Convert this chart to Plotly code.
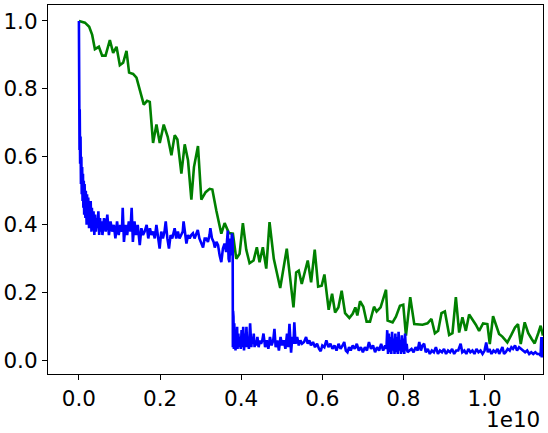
import plotly.graph_objects as go

# x values are in units of 1e10
green_x = [0.0, 0.0148, 0.0253, 0.0327, 0.0394, 0.0492, 0.0573, 0.0657, 0.0763, 0.0844,
           0.0927, 0.1009, 0.1090, 0.1173, 0.1237, 0.1336, 0.1419, 0.1501, 0.1599, 0.1680,
           0.1747, 0.1828, 0.1911, 0.1993, 0.2091, 0.2189, 0.2280, 0.2362, 0.2428, 0.2526,
           0.2608, 0.2689, 0.2772, 0.2836, 0.2935, 0.3018, 0.3124, 0.3223, 0.3289, 0.3387,
           0.3510, 0.3592, 0.3697, 0.3796, 0.3879, 0.3961, 0.4042, 0.4125, 0.4207, 0.4305,
           0.4386, 0.4453, 0.4534, 0.4618, 0.4699, 0.4804, 0.4962, 0.5124, 0.5289, 0.5355,
           0.5419, 0.5493, 0.5641, 0.5724, 0.5813, 0.5897, 0.5985, 0.6052, 0.6157, 0.6241,
           0.6315, 0.6396, 0.6477, 0.6561, 0.6667, 0.6748, 0.6814, 0.6863, 0.6930, 0.7011,
           0.7092, 0.7176, 0.7274, 0.7338, 0.7437, 0.7570, 0.7609, 0.7732, 0.7815, 0.7914,
           0.7995, 0.8062, 0.8167, 0.8266, 0.8372, 0.8470, 0.8593, 0.8691, 0.8775, 0.8856,
           0.8937, 0.9021, 0.9127, 0.9208, 0.9292, 0.9373, 0.9454, 0.9538, 0.9619, 0.9700,
           0.9784, 0.9865, 0.9963, 1.0069, 1.0128, 1.0209, 1.0290, 1.0357, 1.0438, 1.0561,
           1.0659, 1.0750, 1.0824, 1.0891, 1.0989, 1.1077, 1.1161, 1.1235, 1.1323, 1.1382,
           1.1439]
green_y = [1.000, 0.995, 0.983, 0.959, 0.917, 0.924, 0.898, 0.898, 0.944, 0.906,
           0.924, 0.870, 0.877, 0.912, 0.848, 0.844, 0.833, 0.796, 0.754, 0.765,
           0.762, 0.641, 0.695, 0.641, 0.695, 0.659, 0.605, 0.664, 0.651, 0.551,
           0.637, 0.590, 0.474, 0.570, 0.632, 0.474, 0.496, 0.506, 0.504, 0.442,
           0.374, 0.405, 0.376, 0.374, 0.300, 0.315, 0.405, 0.327, 0.287, 0.295,
           0.334, 0.290, 0.334, 0.271, 0.408, 0.300, 0.214, 0.330, 0.157, 0.260,
           0.265, 0.226, 0.295, 0.231, 0.327, 0.218, 0.221, 0.254, 0.150, 0.197,
           0.142, 0.157, 0.206, 0.140, 0.126, 0.138, 0.157, 0.133, 0.175, 0.159,
           0.115, 0.115, 0.159, 0.145, 0.157, 0.209, 0.118, 0.113, 0.130, 0.162,
           0.165, 0.074, 0.187, 0.108, 0.108, 0.106, 0.110, 0.123, 0.081, 0.088,
           0.140, 0.145, 0.076, 0.081, 0.187, 0.083, 0.128, 0.088, 0.136, 0.123,
           0.106, 0.088, 0.110, 0.108, 0.049, 0.131, 0.103, 0.079, 0.071, 0.054,
           0.076, 0.098, 0.108, 0.049, 0.113, 0.081, 0.064, 0.051, 0.081, 0.103,
           0.074]

blue_x = [0.0, 0.0005, 0.001, 0.0015, 0.002, 0.003, 0.004, 0.005, 0.006, 0.007,
          0.008, 0.009, 0.010, 0.011, 0.012, 0.013, 0.014, 0.016, 0.017, 0.019,
          0.020, 0.022, 0.023, 0.025, 0.026, 0.028, 0.029, 0.031, 0.032, 0.034,
          0.036, 0.038, 0.040, 0.042, 0.044, 0.046, 0.048, 0.050, 0.052, 0.054,
          0.056, 0.058, 0.060,
          0.062, 0.066, 0.070, 0.074, 0.078, 0.082, 0.086, 0.090, 0.094, 0.098,
          0.102, 0.106, 0.108, 0.111, 0.115, 0.119, 0.123, 0.127, 0.130, 0.133,
          0.137, 0.141, 0.145, 0.150, 0.154, 0.158, 0.162, 0.167, 0.171, 0.175,
          0.179, 0.183, 0.187, 0.191, 0.195, 0.199, 0.203, 0.207, 0.211, 0.214,
          0.218, 0.222, 0.226, 0.230, 0.236, 0.240, 0.244, 0.248, 0.252, 0.256,
          0.258, 0.262, 0.265, 0.269, 0.273, 0.277, 0.281, 0.285, 0.289, 0.293,
          0.297, 0.301, 0.306, 0.310, 0.314, 0.318, 0.322, 0.324, 0.328, 0.332,
          0.335, 0.339, 0.343, 0.347, 0.351, 0.355, 0.359, 0.363, 0.367, 0.369,
          0.371, 0.373, 0.375, 0.377, 0.379, 0.3795,
          0.3800, 0.3805, 0.381, 0.382, 0.383, 0.384, 0.385, 0.386, 0.387, 0.388,
          0.390, 0.391, 0.393, 0.395, 0.397, 0.399, 0.401, 0.403, 0.405, 0.407,
          0.409, 0.411, 0.413, 0.415, 0.417, 0.419, 0.422, 0.425, 0.427, 0.429,
          0.431, 0.433, 0.435, 0.437, 0.440, 0.443, 0.446, 0.449, 0.452,
          0.455, 0.459, 0.463, 0.467, 0.471, 0.475, 0.479, 0.482, 0.485, 0.489,
          0.493, 0.497, 0.501, 0.505, 0.509, 0.513, 0.516, 0.519, 0.521, 0.523,
          0.526, 0.529, 0.531, 0.534, 0.538, 0.542, 0.546,
          0.550, 0.555, 0.560, 0.564, 0.568, 0.572, 0.577, 0.582, 0.587, 0.592,
          0.596, 0.600, 0.605, 0.610, 0.615, 0.620, 0.625, 0.630, 0.635, 0.640,
          0.645, 0.650, 0.654, 0.658, 0.662, 0.666, 0.670, 0.675, 0.680, 0.685,
          0.690, 0.695, 0.700, 0.705, 0.710, 0.715, 0.720, 0.725, 0.730, 0.735,
          0.740, 0.745, 0.750, 0.755, 0.758,
          0.760, 0.762, 0.764, 0.766, 0.768, 0.770, 0.772, 0.774, 0.776, 0.778,
          0.780, 0.782, 0.784, 0.786, 0.788, 0.790, 0.792, 0.794, 0.796, 0.798,
          0.800, 0.802, 0.804, 0.806, 0.808, 0.810,
          0.815, 0.820, 0.825, 0.830, 0.835, 0.839, 0.843, 0.847, 0.851, 0.855,
          0.860, 0.865, 0.870, 0.875, 0.880, 0.885, 0.890, 0.895, 0.900, 0.905,
          0.910, 0.915, 0.920, 0.925, 0.930, 0.935, 0.941, 0.945, 0.950, 0.955,
          0.960, 0.965, 0.970, 0.975, 0.980, 0.985, 0.990, 0.995, 1.000, 1.004,
          1.008, 1.012, 1.017, 1.022, 1.027, 1.032, 1.036, 1.040, 1.044, 1.048,
          1.052, 1.057, 1.062, 1.066, 1.070, 1.075, 1.080, 1.085, 1.090, 1.095,
          1.100, 1.105, 1.110, 1.115, 1.120, 1.125, 1.130, 1.135, 1.138, 1.140,
          1.141, 1.142]
blue_y = [1.00, 0.70, 0.84, 0.62, 0.74, 0.58, 0.66, 0.52, 0.60, 0.49,
          0.57, 0.47, 0.55, 0.45, 0.53, 0.43, 0.52, 0.42, 0.50, 0.40,
          0.49, 0.41, 0.48, 0.39, 0.46, 0.40, 0.47, 0.38, 0.45, 0.39,
          0.44, 0.37, 0.43, 0.38, 0.42, 0.39, 0.44, 0.37, 0.42, 0.38,
          0.41, 0.37, 0.40,
          0.42, 0.38, 0.43, 0.37, 0.41, 0.38, 0.40, 0.36, 0.41, 0.37,
          0.40, 0.38, 0.45, 0.35, 0.40, 0.37, 0.41, 0.38, 0.45, 0.35,
          0.41, 0.37, 0.40, 0.34, 0.39, 0.37, 0.38, 0.40, 0.36, 0.39,
          0.37, 0.38, 0.36, 0.40, 0.36, 0.33, 0.38, 0.36, 0.38, 0.41,
          0.36, 0.33, 0.37, 0.36, 0.39, 0.36, 0.38, 0.36, 0.37, 0.38,
          0.41, 0.36, 0.345, 0.37, 0.36, 0.37, 0.375, 0.36, 0.37, 0.385,
          0.36, 0.35, 0.333, 0.36, 0.36, 0.35, 0.37, 0.39, 0.36, 0.35,
          0.333, 0.35, 0.34, 0.31, 0.29, 0.33, 0.345, 0.32, 0.383, 0.30,
          0.29, 0.36, 0.31, 0.375, 0.36, 0.04,
          0.147, 0.04, 0.13, 0.035, 0.11, 0.04, 0.09, 0.03, 0.08, 0.04,
          0.10, 0.035, 0.08, 0.04, 0.07, 0.035, 0.09, 0.04, 0.10, 0.03,
          0.08, 0.04, 0.10, 0.04, 0.07, 0.035, 0.11, 0.04, 0.07, 0.05,
          0.08, 0.04, 0.06, 0.045, 0.07, 0.04, 0.06, 0.05, 0.06,
          0.08, 0.04, 0.06, 0.035, 0.07, 0.045, 0.06, 0.094, 0.04, 0.06,
          0.03, 0.07, 0.045, 0.06, 0.035, 0.08, 0.04, 0.109, 0.05, 0.024,
          0.07, 0.05, 0.113, 0.05, 0.07, 0.045, 0.06,
          0.05, 0.055, 0.07, 0.05, 0.06, 0.045, 0.055, 0.04, 0.05, 0.035,
          0.028, 0.045, 0.04, 0.06, 0.04, 0.05, 0.035, 0.045, 0.03, 0.05,
          0.035, 0.045, 0.055, 0.03, 0.025, 0.04, 0.03, 0.045, 0.035, 0.05,
          0.03, 0.04, 0.025, 0.04, 0.03, 0.055, 0.035, 0.045, 0.025, 0.04,
          0.03, 0.05, 0.03, 0.045, 0.035,
          0.09, 0.02, 0.08, 0.025, 0.07, 0.02, 0.085, 0.03, 0.065, 0.02,
          0.08, 0.025, 0.07, 0.02, 0.085, 0.03, 0.06, 0.02, 0.075, 0.025,
          0.065, 0.02, 0.08, 0.03, 0.05, 0.025,
          0.03, 0.035, 0.025, 0.04, 0.03, 0.055, 0.03, 0.045, 0.05, 0.025,
          0.035, 0.02, 0.03, 0.025, 0.04, 0.02, 0.03, 0.025, 0.035, 0.02,
          0.03, 0.025, 0.035, 0.02, 0.03, 0.03, 0.05, 0.025, 0.03, 0.02,
          0.035, 0.025, 0.03, 0.02, 0.035, 0.025, 0.03, 0.02, 0.03, 0.054,
          0.025, 0.035, 0.02, 0.03, 0.025, 0.035, 0.02, 0.03, 0.04, 0.02,
          0.025, 0.035, 0.03, 0.04, 0.035, 0.045, 0.03, 0.04, 0.035, 0.03,
          0.025, 0.03, 0.02, 0.025, 0.02, 0.025, 0.02, 0.02, 0.015, 0.07,
          0.01, 0.07]

tick_vals = [0.0, 0.2, 0.4, 0.6, 0.8, 1.0]
tick_text = ["0.0", "0.2", "0.4", "0.6", "0.8", "1.0"]

fig = go.Figure()
fig.add_trace(go.Scatter(x=green_x, y=green_y, mode="lines",
                         line=dict(color="#008000", width=2.6)))
fig.add_trace(go.Scatter(x=blue_x, y=blue_y, mode="lines",
                         line=dict(color="#0000ff", width=2.6)))

axis_common = dict(showgrid=False, zeroline=False, showline=True, linecolor="black",
                   linewidth=1.1, mirror=True, ticks="outside", ticklen=5,
                   tickwidth=1.1, tickcolor="black", automargin=False,
                   tickfont=dict(family="DejaVu Sans", size=21.5, color="black"))
fig.update_xaxes(range=[-0.0762, 1.144], tickvals=tick_vals, ticktext=tick_text, **axis_common)
fig.update_yaxes(range=[-0.039, 1.047], tickvals=tick_vals, ticktext=tick_text, **axis_common)

fig.add_annotation(text="1e10", xref="paper", yref="paper", x=1, y=-0.083,
                   xanchor="right", yanchor="top", showarrow=False, xshift=-1,
                   font=dict(family="DejaVu Sans", size=21.5, color="black"))

fig.update_layout(width=548, height=433, showlegend=False,
                  margin=dict(l=48, r=5, t=5, b=59, autoexpand=False),
                  plot_bgcolor="white", paper_bgcolor="white")

fig.write_html("out.html", config={"displayModeBar": False},
               post_script="document.body.style.margin='0';document.body.style.overflow='hidden';")
